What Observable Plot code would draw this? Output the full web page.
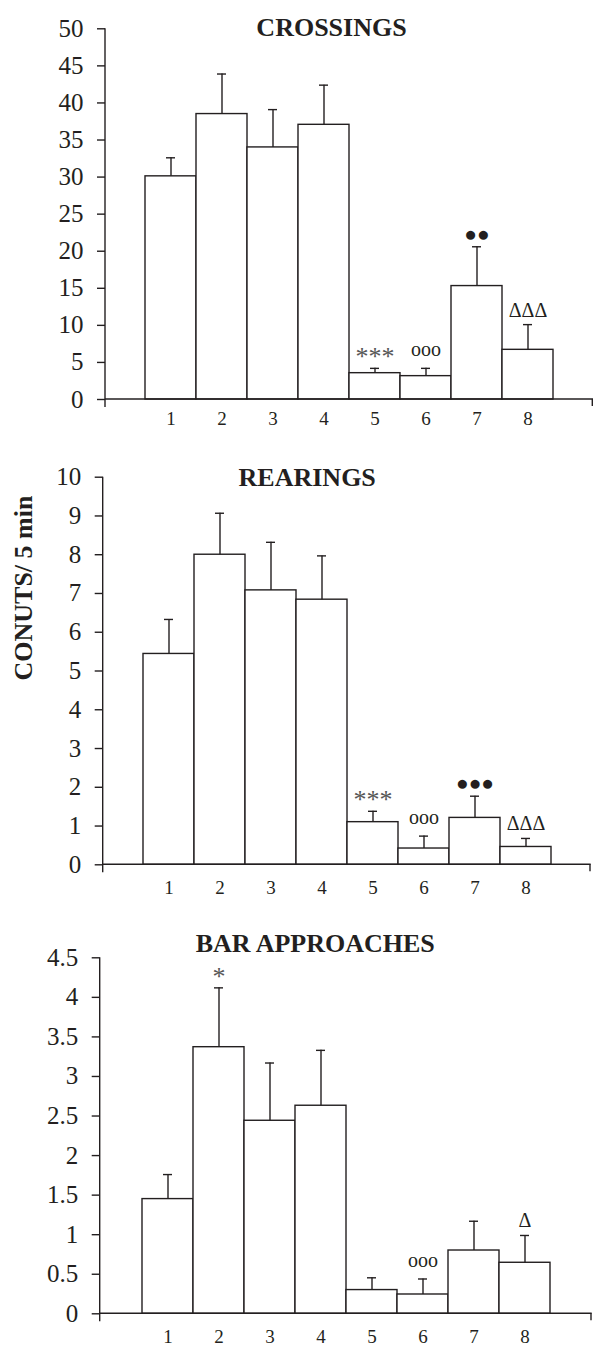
<!DOCTYPE html>
<html>
<head>
<meta charset="utf-8">
<script src="https://cdn.jsdelivr.net/npm/d3@7"></script>
<script src="https://cdn.jsdelivr.net/npm/@observablehq/plot@0.6"></script>
<style>
  html, body { margin: 0; padding: 0; background: #fff; }
  #chart { width: 594px; }
  #chart svg { display: block; }
</style>
</head>
<body>
<div id="chart"></div>
<script>
// ---- data ----
const groups = ["1", "2", "3", "4", "5", "6", "7", "8"];

const crossingsMean = [30.1, 38.5, 34.0, 37.05, 3.55, 3.15, 15.3, 6.7];
const crossingsSem  = [2.5, 5.4, 5.1, 5.35, 0.65, 1.05, 5.3, 3.4];
const crossingsSig  = ["", "", "", "", "***", "ooo", "●●", "ΔΔΔ"];

const rearingsMean = [5.44, 8.0, 7.08, 6.84, 1.10, 0.42, 1.21, 0.46];
const rearingsSem  = [0.89, 1.07, 1.24, 1.13, 0.28, 0.32, 0.56, 0.22];
const rearingsSig  = ["", "", "", "", "***", "ooo", "●●●", "ΔΔΔ"];

const approachMean = [1.45, 3.37, 2.44, 2.63, 0.30, 0.244, 0.80, 0.645];
const approachSem  = [0.31, 0.75, 0.73, 0.70, 0.155, 0.196, 0.37, 0.345];
const approachSig  = ["", "*", "", "", "", "ooo", "", "Δ"];

const titles = ["CROSSINGS", "REARINGS", "BAR APPROACHES"];
const yTicks = [d3.range(0, 50.001, 5), d3.range(0, 10.001, 1), d3.range(0, 4.5001, 0.5)];
const yLabel = "CONUTS/ 5 min";

// ---- styling / layout ----
const FONT = "'Liberation Serif', 'Times New Roman', Times, serif";
const INK = "#231f20";
const panels = [
  {mean: crossingsMean, sem: crossingsSem, sig: crossingsSig, title: titles[0], ticks: yTicks[0],
   height: 445, marginTop: 28.3, marginBottom: 46, marginLeft: 105, marginRight: 1,
   titleDx: -18, titleDy: -1.5, xPad: 12, showLabel: false},
  {mean: rearingsMean, sem: rearingsSem, sig: rearingsSig, title: titles[1], ticks: yTicks[1],
   height: 455, marginTop: 31.7, marginBottom: 35.7, marginLeft: 102.7, marginRight: 3.3,
   titleDx: -40, titleDy: 0, xPad: 16, showLabel: true},
  {mean: approachMean, sem: approachSem, sig: approachSig, title: titles[2], ticks: yTicks[2],
   height: 447, marginTop: 57.3, marginBottom: 33.7, marginLeft: 99.7, marginRight: 2.3,
   titleDx: -31, titleDy: -14, xPad: 16, showLabel: false}
];

const sigStyle = {
  "*": {fontSize: 26, dy: -3, fill: "#555"},
  "o": {fontSize: 20, dy: -12, fill: INK},
  "●": {fontSize: 21, dy: -6, fill: INK},
  "Δ": {fontSize: 20, dy: -8, fill: INK}
};

// axis lines drawn from the frame dimensions
function axisLines(...args) {
  const dims = args.find(a => a && typeof a === "object" && "marginLeft" in a && "width" in a);
  const {width, height, marginLeft, marginRight, marginTop, marginBottom} = dims;
  const y0 = height - marginBottom;
  const g = d3.create("svg:g").attr("stroke", INK).attr("stroke-width", 1.4).attr("fill", "none");
  g.append("line").attr("x1", marginLeft).attr("x2", marginLeft).attr("y1", marginTop).attr("y2", y0 + 8);
  g.append("line").attr("x1", marginLeft).attr("x2", width - marginRight).attr("y1", y0).attr("y2", y0);
  g.append("line").attr("x1", width - marginRight - 0.7).attr("x2", width - marginRight - 0.7).attr("y1", y0).attr("y2", y0 + 7);
  return g.node();
}

const chart = document.getElementById("chart");

panels.forEach(p => {
  const data = groups.map((g, i) => ({g, mean: p.mean[i], sem: p.sem[i], top: p.mean[i] + p.sem[i], sig: p.sig[i]}));
  const ymax = p.ticks[p.ticks.length - 1];
  const sigMarks = Object.keys(sigStyle).map(k => {
    const s = sigStyle[k];
    return Plot.text(data.filter(d => d.sig && d.sig[0] === k), {
      x: "g", y: "top", text: "sig", lineAnchor: "bottom", dy: s.dy,
      fontSize: s.fontSize, fill: s.fill, fontFamily: FONT
    });
  });
  const marks = [
    Plot.barY(data, {x: "g", y: "mean", fill: "white", stroke: INK, strokeWidth: 1.4}),
    Plot.ruleX(data, {x: "g", y1: "mean", y2: "top", stroke: INK, strokeWidth: 1.4}),
    Plot.tickY(data, {x: "g", y: "top", stroke: INK, strokeWidth: 1.4, insetLeft: 21, insetRight: 21}),
    ...sigMarks,
    Plot.axisY({ticks: p.ticks, tickSize: 8, tickPadding: 14, tickFormat: d => String(d),
      fontSize: 25, fontFamily: FONT, label: null, stroke: INK, strokeWidth: 1.4, fill: INK}),
    Plot.axisX({tickSize: 0, tickPadding: p.xPad, fontSize: 19, fontFamily: FONT, label: null, fill: INK}),
    axisLines,
    Plot.text([p.title], {frameAnchor: "top", text: d => d, dx: p.titleDx, dy: p.titleDy,
      lineAnchor: "middle", fontSize: 26, fontWeight: "bold", fontFamily: FONT, fill: INK})
  ];
  if (p.showLabel) {
    marks.push(Plot.text([yLabel], {frameAnchor: "left", text: d => d, rotate: -90, dx: -80, dy: 9.5,
      fontSize: 26, fontWeight: "bold", fontFamily: FONT, fill: INK}));
  }
  const svg = Plot.plot({
    width: 594,
    height: p.height,
    marginTop: p.marginTop,
    marginBottom: p.marginBottom,
    marginLeft: p.marginLeft,
    marginRight: p.marginRight,
    style: {fontFamily: FONT, background: "white", color: INK, overflow: "visible"},
    x: {type: "band", domain: groups, paddingInner: 0, paddingOuter: 0.75},
    y: {domain: [0, ymax]},
    marks
  });
  chart.appendChild(svg);
});
</script>
</body>
</html>
